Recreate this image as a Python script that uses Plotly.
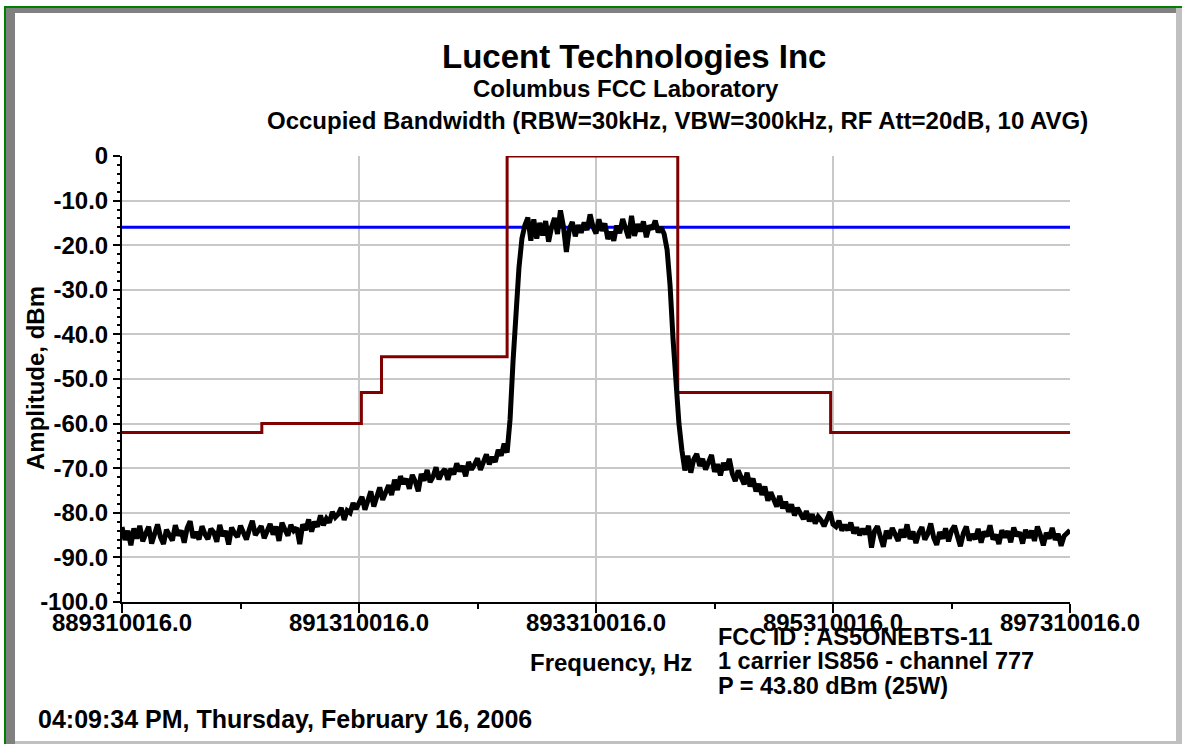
import numpy as np
import plotly.graph_objects as go

# ---------------- data ----------------
F_START = 889310016
F_STOP = 897310016
N_POINTS = 321

amplitude_dbm = [
    -83.2, -86.1, -84.0, -87.3, -83.5, -85.8, -82.9, -86.4, -84.7, -83.1,
    -86.9, -84.2, -82.6, -85.5, -87.0, -83.8, -84.9, -86.2, -82.8, -85.1,
    -84.0, -86.7, -83.4, -81.9, -85.6, -84.3, -86.0, -83.0, -84.8, -85.9,
    -83.6, -84.4, -86.5, -82.7, -85.2, -84.1, -87.1, -83.3, -84.6, -85.4,
    -82.9, -84.8, -86.0, -83.7, -81.8, -85.0, -84.2, -83.0, -85.7, -84.4,
    -82.5, -84.9, -83.1, -86.3, -82.2, -83.8, -85.1, -82.7, -84.0, -83.4,
    -87.0, -82.6, -83.9, -81.5, -84.2, -82.0, -83.1, -80.6, -82.8, -81.3,
    -82.2, -79.8, -81.0, -80.3, -78.9, -81.6, -79.5, -80.0, -77.8, -79.2,
    -78.0, -76.4, -79.3, -77.5, -75.2, -78.6, -76.0, -74.3, -77.1, -75.6,
    -73.8, -76.0, -72.6, -74.9, -71.8, -73.5, -72.4, -74.6, -71.5, -73.0,
    -75.2, -71.3, -72.8, -70.4, -73.1, -71.9, -69.8, -72.5, -71.0, -70.2,
    -72.6, -70.1, -71.4, -68.9, -70.7, -69.5, -71.8, -68.6, -70.3, -69.2,
    -67.8, -70.4, -68.3, -66.9, -69.1, -67.5, -68.6, -65.9, -67.2, -64.5,
    -66.5, -59.0, -46.0, -34.0, -25.0, -18.5, -15.5,
    -13.8, -19.0, -14.2, -18.5, -15.0, -17.8, -14.6, -19.2, -16.0, -13.9,
    -17.5, -12.2, -15.8, -21.5, -16.4, -14.8, -18.0, -15.5, -17.2, -14.9,
    -16.6, -13.1, -15.9, -17.4, -14.2, -16.8, -15.1, -18.6, -17.0, -19.0,
    -15.6, -17.3, -14.1, -16.2, -18.4, -13.4, -17.9, -15.3, -16.9, -14.7,
    -18.2, -15.6, -16.4, -14.5, -17.1, -16.0,
    -17.5, -21.0, -29.0, -41.0, -52.0, -60.0, -66.0, -70.5,
    -67.2, -71.0, -68.0, -66.8, -69.5, -67.9, -70.3, -68.4, -67.0, -70.8,
    -69.1, -71.6, -68.8, -70.4, -67.9, -71.2, -72.9, -70.5, -71.8, -73.6,
    -71.0, -74.1, -72.3, -75.2, -73.5, -76.0, -74.1, -77.3, -75.4, -76.8,
    -78.6, -76.2, -79.0, -77.5, -79.8, -78.1, -80.6, -78.9, -80.0, -81.4,
    -79.6, -81.9, -80.3, -82.4, -80.9, -81.7, -83.0, -81.2, -79.8, -82.6,
    -83.1, -81.8, -84.0, -82.7, -83.9, -82.2, -84.6, -83.3, -85.0, -83.6,
    -84.8, -82.9, -87.8, -84.1, -83.0, -85.4, -87.6, -84.0, -85.8, -83.4,
    -84.9, -86.3, -83.7, -85.5, -82.6, -85.9, -84.2, -86.8, -84.5, -83.2,
    -86.0, -84.7, -82.4, -85.6, -87.2, -84.3, -85.8, -83.5, -86.4, -84.0,
    -82.9, -85.7, -87.5, -84.6, -83.1, -86.2, -84.8, -85.9, -83.6, -86.7,
    -84.2, -85.3, -82.8, -86.0, -84.9, -87.0, -83.9, -85.5, -84.1, -86.6,
    -83.3, -85.2, -84.4, -86.9, -83.8, -85.6, -84.0, -86.3, -83.1, -85.0,
    -87.3, -84.5, -85.8, -83.4, -86.1, -84.7, -87.4, -85.2, -84.6, -83.9,
]

# emission mask (step corners)
mask_freq = [889310016, 890490000, 890490000, 891330000, 891330000,
             891500000, 891500000, 892560000, 892560000, 894000000,
             894000000, 895290000, 895290000, 897310016]
mask_dbm = [-62, -62, -60, -60, -53, -53, -45, -45, 0, 0, -53, -53, -62, -62]

ref_level_dbm = -16.0

x_tickvals = [889310016, 891310016, 893310016, 895310016, 897310016]
x_ticktext = ["889310016.0", "891310016.0", "893310016.0", "895310016.0", "897310016.0"]
y_tickvals = [0, -10, -20, -30, -40, -50, -60, -70, -80, -90, -100]
y_ticktext = ["0", "-10.0", "-20.0", "-30.0", "-40.0", "-50.0", "-60.0",
              "-70.0", "-80.0", "-90.0", "-100.0"]

freq_hz = np.linspace(F_START, F_STOP, N_POINTS)

# ---------------- layout geometry ----------------
W, H = 1182, 744
ML, MR, MT, MB = 122, 112, 156, 142
PW, PH = W - ML - MR, H - MT - MB


def px(x):
    return (x - ML) / PW


def py(y):
    return (H - MB - y) / PH


FONT = "Liberation Sans, Arial, Helvetica, sans-serif"
TICK_SIZE = 24

fig = go.Figure()

fig.add_trace(go.Scatter(
    x=[F_START, F_STOP], y=[ref_level_dbm, ref_level_dbm], mode="lines",
    line=dict(color="#0000ff", width=3), showlegend=False, hoverinfo="skip"))
fig.add_trace(go.Scatter(
    x=mask_freq, y=mask_dbm, mode="lines", cliponaxis=False,
    line=dict(color="#800000", width=3), showlegend=False))
fig.add_trace(go.Scatter(
    x=freq_hz, y=amplitude_dbm, mode="lines",
    line=dict(color="#000000", width=5), showlegend=False))

common_x = dict(range=[F_START, F_STOP], tickvals=x_tickvals, zeroline=False)
common_y = dict(range=[-100, 0], tickvals=y_tickvals, zeroline=False)

fig.update_layout(
    width=W, height=H,
    margin=dict(l=ML, r=MR, t=MT, b=MB, pad=0),
    paper_bgcolor="white", plot_bgcolor="white",
    font=dict(family=FONT, color="black"),
    xaxis=dict(
        **common_x, ticktext=x_ticktext,
        showgrid=True, gridcolor="#c8c8c8", gridwidth=2,
        showline=True, linecolor="black", linewidth=2,
        ticks="outside", ticklen=9, tickwidth=2, tickcolor="black",
        ticklabelstandoff=-11,
        tickfont=dict(family=FONT, size=TICK_SIZE, weight="bold", color="black"),
        minor=dict(dtick=1000000, tick0=F_START, ticks="outside", ticklen=5,
                   tickwidth=1.5, tickcolor="black", showgrid=False),
    ),
    xaxis2=dict(
        **common_x, overlaying="x", matches="x", side="bottom",
        showgrid=False, showline=False, showticklabels=False,
        ticks="inside", ticklen=7, tickwidth=2, tickcolor="black",
        minor=dict(dtick=1000000, tick0=F_START, ticks="inside", ticklen=4,
                   tickwidth=1.5, tickcolor="black", showgrid=False),
    ),
    yaxis=dict(
        **common_y, ticktext=y_ticktext,
        showgrid=True, gridcolor="#c8c8c8", gridwidth=2,
        showline=True, linecolor="black", linewidth=2,
        ticks="outside", ticklen=7, tickwidth=2, tickcolor="black",
        tickfont=dict(family=FONT, size=TICK_SIZE, weight="bold", color="black"),
        minor=dict(dtick=2, ticks="outside", ticklen=3, tickwidth=1.5,
                   tickcolor="black", showgrid=False),
    ),
    yaxis2=dict(
        **common_y, overlaying="y", matches="y", side="left",
        showgrid=False, showline=False, showticklabels=False,
        ticks="inside", ticklen=9, tickwidth=2, tickcolor="black",
        minor=dict(dtick=2, ticks="inside", ticklen=4, tickwidth=1.5,
                   tickcolor="black", showgrid=False),
    ),
)

# ---------------- frame decoration ----------------
shapes = []


def rect(x0, y0, x1, y1, color):
    shapes.append(dict(type="rect", xref="paper", yref="paper",
                       x0=px(x0), x1=px(x1), y0=py(y1), y1=py(y0),
                       line=dict(width=0), fillcolor=color, layer="above"))


rect(4, 6, W, 8, "#008000")          # green top line
rect(4, 6, 6, H, "#008000")          # green left line
rect(6, 8, 1176, 13, "#808080")      # dark bevel top
rect(6, 8, 15, H, "#808080")         # dark bevel left
rect(1176, 8, W, H, "#c0c0c0")       # light bevel right
rect(15, 741, W, H, "#c0c0c0")       # light bevel bottom
fig.update_layout(shapes=shapes)

# ---------------- texts ----------------
ann = []


def text(s, x, y, size, xanchor="center", angle=0):
    ann.append(dict(text=s, x=px(x), y=py(y), xref="paper", yref="paper",
                    xanchor=xanchor, yanchor="middle", showarrow=False,
                    textangle=angle,
                    font=dict(family=FONT, size=size, weight="bold", color="black")))


text("Lucent Technologies Inc", 634, 57, 33)
text("Columbus FCC Laboratory", 626, 89, 24)
text("Occupied Bandwidth (RBW=30kHz, VBW=300kHz, RF Att=20dB, 10 AVG)", 677, 120, 24)
text("Amplitude, dBm", 35, 378, 24, angle=-90)
text("Frequency, Hz", 611, 662, 24)
text("FCC ID : AS5ONEBTS-11", 716, 637, 23.5, xanchor="left")
text("1 carrier IS856 - channel 777", 716, 661, 23.5, xanchor="left")
text("P = 43.80 dBm (25W)", 716, 686, 23.5, xanchor="left")
text("04:09:34 PM, Thursday, February 16, 2006", 36, 719, 25, xanchor="left")
fig.update_layout(annotations=ann)

fig.write_html("out.html", config={"displayModeBar": False},
               post_script="document.body.style.margin='0';")
